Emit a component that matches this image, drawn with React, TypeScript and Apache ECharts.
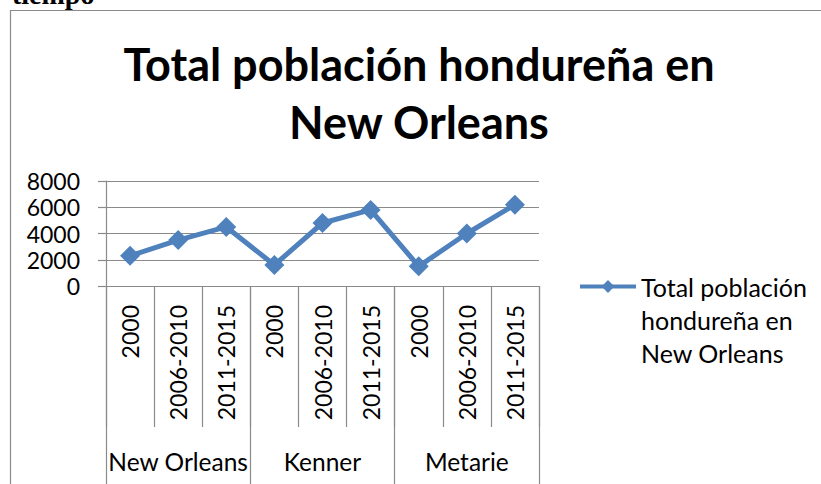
import React, { useEffect, useRef } from "react";
import * as echarts from "echarts";

// Sub-periods shown under each locality
const periods = [
  "2000", "2006-2010", "2011-2015",
  "2000", "2006-2010", "2011-2015",
  "2000", "2006-2010", "2011-2015",
];
// Localities grouping the periods
const localities = ["New Orleans", "Kenner", "Metarie"];
// Total Honduran population per period
const population = [2300, 3500, 4500, 1600, 4800, 5800, 1500, 4000, 6200];

const seriesName = "Total población hondureña en New Orleans";
const chartTitle = "Total población hondureña en\nNew Orleans";
const legendLines = ["Total población", "hondureña en", "New Orleans"];

const yMin = 0;
const yMax = 8000;
const yStep = 2000;

const FONT = "Lato, 'Noto Sans', sans-serif";
const GRAY = "#8a8a8a";
const BLUE = "#4f81bd";

export default function App() {
  const ref = useRef<HTMLDivElement>(null);

  useEffect(() => {
    if (!ref.current) return;
    const chart = echarts.init(ref.current, undefined, { renderer: "svg" });
    chart.setOption({
      animation: false,
      backgroundColor: "#ffffff",
      textStyle: { fontFamily: FONT },
      title: {
        text: chartTitle,
        left: 419,
        top: 35,
        textAlign: "center",
        padding: 0,
        textStyle: {
          fontFamily: FONT,
          fontSize: 45,
          fontWeight: "bold",
          color: "#000",
          lineHeight: 58,
        },
      },
      graphic: [
        {
          type: "rect",
          shape: { x: 10.5, y: 10.5, width: 900, height: 600 },
          style: { fill: "none", stroke: GRAY, lineWidth: 1.2 },
          silent: true,
        },
        {
          type: "text",
          x: 12,
          y: -6,
          style: {
            text: "tiempo",
            fontFamily: "'Liberation Serif', serif",
            fontWeight: "bold",
            fontSize: 28,
            fill: "#000",
            verticalAlign: "middle",
          },
          silent: true,
        },
      ],
      legend: {
        left: 578,
        top: 204,
        padding: 0,
        itemWidth: 56,
        itemHeight: 16,
        itemGap: 0,
        formatter: () => "\n\n" + legendLines.join("\n"),
        lineStyle: { width: 4 },
        textStyle: {
          fontFamily: FONT,
          fontSize: 25,
          color: "#000",
          lineHeight: 33,
        },
        data: [seriesName],
      },
      grid: { left: 106, right: 282, top: 181, bottom: 198, containLabel: false },
      xAxis: [
        {
          type: "category",
          data: periods,
          position: "bottom",
          boundaryGap: true,
          axisLine: { show: true, lineStyle: { color: GRAY, width: 1.2 } },
          axisTick: { show: true, interval: 0, length: 141, lineStyle: { color: GRAY, width: 1.2 } },
          axisLabel: {
            interval: 0,
            rotate: 90,
            margin: 19,
            fontFamily: FONT,
            fontSize: 23,
            color: "#000",
          },
        },
        {
          type: "category",
          data: localities,
          position: "bottom",
          boundaryGap: true,
          axisLine: { show: false },
          axisTick: { show: true, interval: 0, length: 198, lineStyle: { color: GRAY, width: 1.2 } },
          axisLabel: {
            interval: 0,
            margin: 163,
            fontFamily: FONT,
            fontSize: 24.5,
            color: "#000",
          },
        },
      ],
      yAxis: {
        type: "value",
        min: yMin,
        max: yMax,
        interval: yStep,
        axisLine: { show: true, lineStyle: { color: GRAY, width: 1.2 } },
        axisTick: { show: true, length: 8, lineStyle: { color: GRAY, width: 1.2 } },
        splitLine: { show: true, lineStyle: { color: GRAY, width: 1.2 } },
        axisLabel: {
          margin: 26,
          fontFamily: FONT,
          fontSize: 23,
          color: "#000",
          formatter: (v: number) => String(v),
        },
      },
      series: [
        {
          name: seriesName,
          type: "line",
          xAxisIndex: 0,
          data: population,
          symbol: "diamond",
          symbolSize: 20,
          lineStyle: { color: BLUE, width: 5 },
          itemStyle: { color: BLUE },
        },
      ],
    });
    return () => chart.dispose();
  }, []);

  return (
    <div
      ref={ref}
      style={{ position: "fixed", left: 0, top: 0, width: 821, height: 484 }}
    />
  );
}
